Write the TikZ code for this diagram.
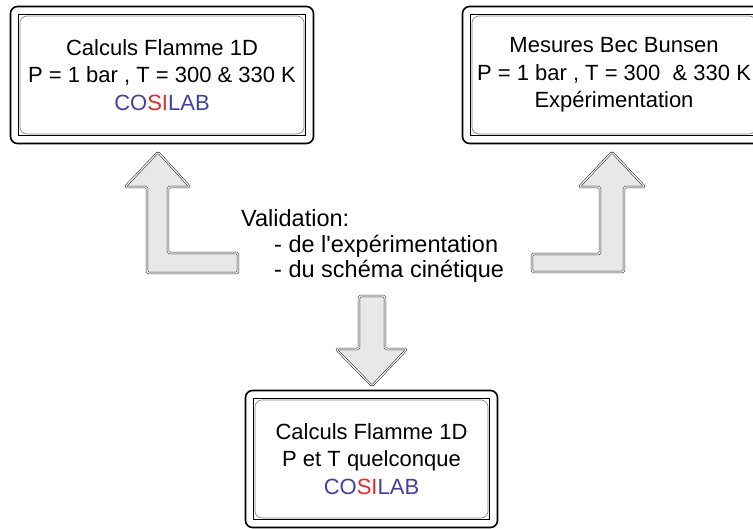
\documentclass[tikz,border=0pt]{standalone}
\usepackage{fontspec}
\setmainfont{Liberation Sans}
\definecolor{cosiblue}{RGB}{64,64,168}
\definecolor{cosired}{RGB}{230,40,45}
\newcommand{\cosilab}{\textcolor{cosiblue}{CO}\textcolor{cosired}{SI}\textcolor{cosiblue}{LAB}}
\tikzset{
  calcbox/.style={draw, line width=1.6pt, rounded corners=7pt, minimum width=#1,
    minimum height=137pt, align=center, font=\fontsize{22}{27.5}\selectfont,
    path picture={
      \draw[gray, line width=0.6pt] ([shift={(9.5pt,-9.5pt)}]path picture bounding box.north west)
        rectangle ([shift={(-9.5pt,9.5pt)}]path picture bounding box.south east);
      \draw[line width=0.8pt, sharp corners] ([shift={(8pt,-8pt)}]path picture bounding box.north west)
        rectangle ([shift={(-8pt,8pt)}]path picture bounding box.south east);}},
  bigarrow/.style={fill=gray!18, draw=black!85, line width=0.55pt, double=white,
    double distance=1.1pt, rounded corners=1.5pt}
}
\begin{document}
\begin{tikzpicture}[x=1pt,y=-1pt]
\useasboundingbox (0,0) rectangle (753,529);
% boites
\node[calcbox=303pt] (flamme) at (162,75) {Calculs Flamme 1D\\P = 1 bar , T = 300 \& 330 K\\\cosilab};
\node[calcbox=303pt] (bunsen) at (614,75) {Mesures Bec Bunsen\\P = 1 bar , T = 300~ \& 330 K\\Exp\'erimentation};
\node[calcbox=252pt] (quelc) at (371.5,459) {Calculs Flamme 1D\\P et T quelconque\\\cosilab};
% texte
\node[anchor=west, align=left, inner sep=0pt, font=\fontsize{23.5}{25.5}\selectfont] (valid) at (241,246)
  {Validation:\\\hspace*{33pt}- de l\textquotesingle exp\'erimentation\\\hspace*{33pt}- du sch\'ema cin\'etique};
% fleches
\draw[bigarrow] (158,152) -- (190,187) -- (168,187) -- (168,253) -- (238,253) -- (238,273)
  -- (147,273) -- (147,187) -- (125,187) -- cycle;
\draw[bigarrow] (612,152) -- (645,187) -- (624,187) -- (624,272) -- (532,272) -- (532,254)
  -- (600,254) -- (600,187) -- (579,187) -- cycle;
\draw[bigarrow] (359,296) -- (385,296) -- (385,349) -- (407,349) -- (372,386) -- (336,349)
  -- (359,349) -- cycle;
\end{tikzpicture}
\end{document}
